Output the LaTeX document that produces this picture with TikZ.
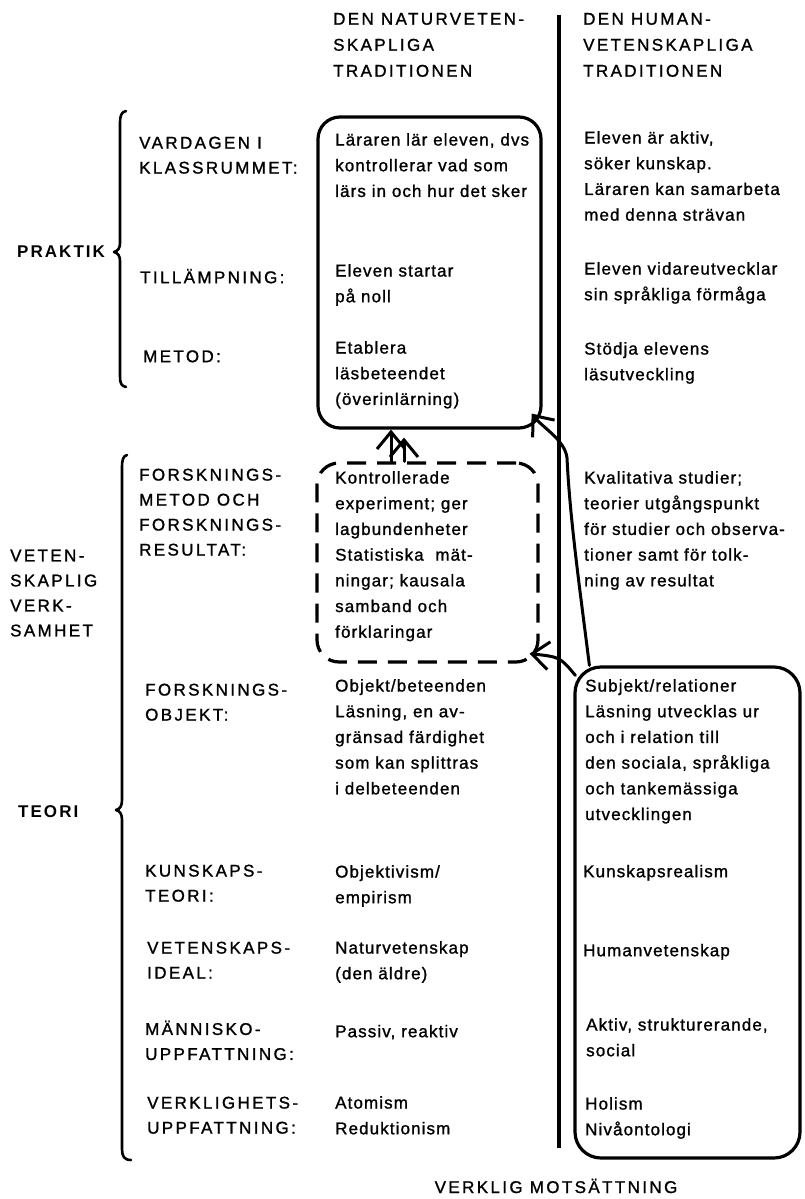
\documentclass[tikz,border=0pt]{standalone}
\usepackage{fontspec}
\setmainfont[LetterSpace=6.5, FakeBold=1.2]{Liberation Sans}
\newfontfamily\capsfont[LetterSpace=14, FakeBold=1.2]{Liberation Sans}
\newfontfamily\boldcaps[LetterSpace=12]{Liberation Sans}
\usetikzlibrary{arrows.meta}
\tikzset{
  body/.style={anchor=north west, inner sep=0pt, align=left,
    font=\fontsize{17}{25.7}\selectfont, yshift=17.99pt, execute at begin node=\strut},
  lab/.style={anchor=north west, inner sep=0pt, align=left,
    font=\capsfont\fontsize{17}{25}\selectfont, yshift=17.5pt, execute at begin node=\strut},
  head/.style={anchor=north west, inner sep=0pt, align=left,
    font=\capsfont\fontsize{17}{26}\selectfont, yshift=18.2pt, execute at begin node=\strut},
  boldlab/.style={anchor=base west, inner sep=0pt,
    font=\boldcaps\bfseries\fontsize{17}{25}\selectfont},
  box/.style={draw, line width=3.2pt, rounded corners=22pt, inner sep=0pt, line join=round},
  dbox/.style={box, dash pattern=on 19pt off 11pt},
  arr/.style={line width=3pt, line cap=round, line join=round,
    -{Straight Barb[length=17pt,width=28pt]}},
  brace/.style={line width=2.6pt, line cap=round, line join=round},
  sep/.style={line width=4pt}
}
\begin{document}
\begin{tikzpicture}[x=1pt, y=-1pt]
\useasboundingbox (0,0) rectangle (804,1199);
\fill[white] (0,0) rectangle (804,1199);

% column headings
\node[head] (h1) at (333,31) {DEN NATURVETEN-\\SKAPLIGA\\TRADITIONEN};
\node[head] (h2) at (583,31) {DEN HUMAN-\\VETENSKAPLIGA\\TRADITIONEN};

% separator
\draw[sep] (559,15) -- (559,1148);

% boxes
\node[box, minimum width=223pt, minimum height=311pt] (b1) at (429.5,272.5) {};
\node[dbox, minimum width=221pt, minimum height=199pt] (db) at (427.5,562.5) {};
\node[box, rounded corners=26pt, minimum width=225pt, minimum height=491pt] (b3) at (687.5,912.5) {};

% braces
\draw[brace] (126,111) .. controls (121,112) and (120,116) .. (120,124)
  -- (120,243) .. controls (120,248) and (118,251) .. (114,252)
  .. controls (118,253) and (120,256) .. (120,261)
  -- (120,376) .. controls (120,383) and (121,386) .. (126,387);
\draw[brace] (127,455) .. controls (123,456) and (122,460) .. (122,468)
  -- (122,800) .. controls (122,806) and (120,809) .. (116,810)
  .. controls (120,811) and (122,814) .. (122,820)
  -- (122,1149) .. controls (122,1156) and (124,1160) .. (131,1160);

% group labels
\node[boldlab] (pr) at (17,257) {PRAKTIK};
\node[boldlab] (te) at (18,817) {TEORI};
\node[lab] (vs) at (10,567) {VETEN-\\SKAPLIG\\VERK-\\SAMHET};

% row labels
\node[lab] (l1) at (139,154) {VARDAGEN I\\KLASSRUMMET:};
\node[lab] (l2) at (140,283) {TILLÄMPNING:};
\node[lab] (l3) at (143,362) {METOD:};
\node[lab] (l4) at (139,486) {FORSKNINGS-\\METOD OCH\\FORSKNINGS-\\RESULTAT:};
\node[lab] (l5) at (145,701) {FORSKNINGS-\\OBJEKT:};
\node[lab] (l6) at (145,882) {KUNSKAPS-\\TEORI:};
\node[lab] (l7) at (147,959) {VETENSKAPS-\\IDEAL:};
\node[lab] (l8) at (145,1038) {MÄNNISKO-\\UPPFATTNING:};
\node[lab] (l9) at (147,1114) {VERKLIGHETS-\\UPPFATTNING:};

% natural-science column
\node[body] (m1) at (335,151) {Läraren lär eleven, dvs\\kontrollerar vad som\\lärs in och hur det sker};
\node[body] (m2) at (335,282) {Eleven startar\\på noll};
\node[body] (m3) at (335,359) {Etablera\\läsbeteendet\\(överinlärning)};
\node[body] (m4) at (335,489) {Kontrollerade\\experiment; ger\\lagbundenheter\\Statistiska\ \ mät-\\ningar; kausala\\samband och\\förklaringar};
\node[body] (m5) at (335,697) {Objekt/beteenden\\Läsning, en av-\\gränsad färdighet\\som kan splittras\\i delbeteenden};
\node[body] (m6) at (335,883) {Objektivism/\\empirism};
\node[body] (m7) at (335,959) {Naturvetenskap\\(den äldre)};
\node[body] (m8) at (335,1037) {Passiv, reaktiv};
\node[body] (m9) at (335,1114) {Atomism\\Reduktionism};

% humanities column
\node[body] (r1) at (584,149) {Eleven är aktiv,\\söker kunskap.\\Läraren kan samarbeta\\med denna strävan};
\node[body] (r2) at (584,280) {Eleven vidareutvecklar\\sin språkliga förmåga};
\node[body] (r3) at (584,360) {Stödja elevens\\läsutveckling};
\node[body] (r4) at (584,489) {Kvalitativa studier;\\teorier utgångspunkt\\för studier och observa-\\tioner samt för tolk-\\ning av resultat};
\node[body] (r5) at (585,697) {Subjekt/relationer\\Läsning utvecklas ur\\och i relation till\\den sociala, språkliga\\och tankemässiga\\utvecklingen};
\node[body] (r6) at (583,877) {Kunskapsrealism};
\node[body] (r7) at (583,956) {Humanvetenskap};
\node[body] (r8) at (586,1036) {Aktiv, strukturerande,\\social};
\node[body] (r9) at (585,1115) {Holism\\Nivåontologi};

% bottom caption
\node[anchor=base, inner sep=0pt, font=\capsfont\fontsize{17}{25}\selectfont] (bt) at (556,1193) {VERKLIG MOTSÄTTNING};

% arrows
\draw[arr] ([xshift=-36.5pt]db.north) -- ([xshift=-38.5pt]b1.south);
\draw[arr] ([xshift=-23.5pt]db.north) -- ([xshift=-25.5pt,yshift=-8pt]b1.south);
\draw[arr] ([xshift=16pt]b3.north west) .. controls (580,590) and (570,520) .. (567,458)
  .. controls (565,440) and (543,428) .. ([xshift=-11pt,yshift=16pt]b1.south east);
\draw[arr] ([xshift=2pt,yshift=-10pt]b3.north west) .. controls (560,657) .. ([xshift=-10pt,yshift=10pt]db.south east);
\end{tikzpicture}
\end{document}
